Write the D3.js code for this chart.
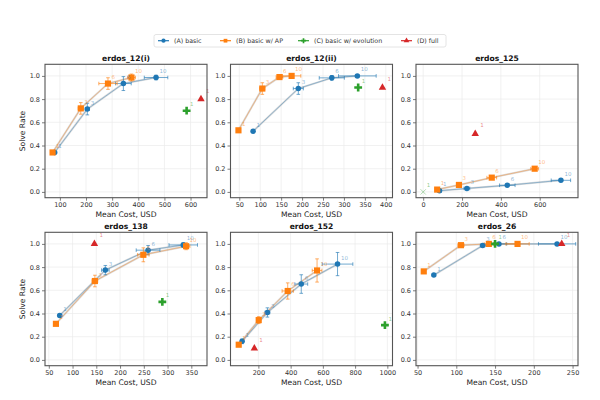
<!DOCTYPE html>
<html>
<head>
<meta charset="utf-8">
<script src="https://cdn.jsdelivr.net/npm/d3@7"></script>
<style>
  body { margin: 0; background: #fff; }
  text { font-family: "DejaVu Sans", sans-serif; }
</style>
</head>
<body>
<svg id="chart" width="600" height="400"></svg>
<script>
// panels, left to right then top to bottom
const problems = ["erdos_12(i)", "erdos_12(ii)", "erdos_125", "erdos_138", "erdos_152", "erdos_26"];
const xDomains = [[43, 663], [29, 416], [-37, 797], [42, 383], [27, 1032], [48, 257]];
const xTicks = [
  [100, 200, 300, 400, 500, 600],
  [50, 100, 150, 200, 250, 300, 350, 400],
  [0, 200, 400, 600],
  [50, 100, 150, 200, 250, 300, 350],
  [200, 400, 600, 800, 1000],
  [50, 100, 150, 200, 250]
];
const yTicks = [0, 0.2, 0.4, 0.6, 0.8, 1.0];
const attempts = ["1", "3", "6", "10"];

// (A) basic
const basicCost = [[80, 205, 343, 468], [83, 191, 271, 332], [84, 225, 433, 709], [73, 169, 259, 333], [99, 256, 466, 691], [71, 134, 155, 230]];
const basicRate = [[0.34, 0.714, 0.934, 0.986], [0.523, 0.891, 0.983, 1.0], [0.01, 0.03, 0.057, 0.10], [0.383, 0.774, 0.946, 0.991], [0.16, 0.409, 0.654, 0.826], [0.731, 0.986, 1.0, 1.0]];
const basicCostErr = [[0, 8, 30, 45], [0, 12, 30, 45], [10, 15, 40, 50], [3, 8, 25, 30], [8, 15, 40, 95], [1, 3, 10, 24]];
const basicRateErr = [[0, 0.05, 0.06, 0.02], [0, 0.05, 0.02, 0], [0, 0.01, 0.01, 0.01], [0, 0.04, 0.04, 0.02], [0.02, 0.04, 0.08, 0.1], [0, 0.01, 0, 0]];

// (B) basic w/ AP
const apCost = [[72, 180, 284, 374], [48, 105, 146, 175], [72, 184, 353, 574], [65, 147, 249, 339], [78, 202, 382, 564], [58, 106, 142, 179]];
const apRate = [[0.34, 0.72, 0.934, 0.986], [0.531, 0.891, 0.99, 1.0], [0.02, 0.06, 0.123, 0.2], [0.311, 0.68, 0.906, 0.98], [0.131, 0.343, 0.594, 0.771], [0.763, 0.989, 1.0, 1.0]];
const apCostErr = [[5, 10, 35, 15], [0, 6, 8, 22], [10, 10, 25, 20], [3, 6, 12, 8], [5, 10, 35, 30], [2, 4, 6, 15]];
const apRateErr = [[0.01, 0.05, 0.05, 0.03], [0, 0.05, 0.02, 0], [0, 0.01, 0.01, 0.01], [0, 0.05, 0.06, 0.03], [0.01, 0.03, 0.07, 0.1], [0, 0.01, 0, 0]];

// (C) basic w/ evolution, (D) full : one run each
const evoCost = [585, 334, 0, 289, 985, 150];
const evoRate = [0.70, 0.90, 0.0, 0.50, 0.30, 1.0];
const fullCost = [640, 392, 268, 146, 175, 236];
const fullRate = [0.80, 0.90, 0.50, 1.0, 0.10, 1.0];

const COLORS = { A: "#1f77b4", B: "#ff7f0e", C: "#2ca02c", D: "#d62728" };
const LEFTS = [45, 230.5, 416], TOPS = [64.3, 232.3];
const W = 162, H = 133.4;

const svg = d3.select("#chart");

const sym = {
  A: d3.symbol().type(d3.symbolCircle).size(24),
  B: d3.symbol().type(d3.symbolSquare).size(38),
  C: d3.symbol().type(d3.symbolCross).size(34),
  D: d3.symbol().type(d3.symbolTriangle).size(24),
  X: d3.symbol().type(d3.symbolX).size(20)
};

problems.forEach((name, p) => {
  const left = LEFTS[p % 3], top = TOPS[Math.floor(p / 3)];
  const x = d3.scaleLinear(xDomains[p], [0, W]);
  const y = d3.scaleLinear([-0.05, 1.1], [H, 0]);
  const g = svg.append("g").attr("transform", `translate(${left},${top})`);

  // grid
  g.append("g").selectAll("line").data(xTicks[p]).enter().append("line")
    .attr("x1", d => x(d)).attr("x2", d => x(d)).attr("y1", 0).attr("y2", H)
    .attr("stroke", "#ebebeb").attr("stroke-width", 0.7);
  g.append("g").selectAll("line").data(yTicks).enter().append("line")
    .attr("y1", d => y(d)).attr("y2", d => y(d)).attr("x1", 0).attr("x2", W)
    .attr("stroke", "#ebebeb").attr("stroke-width", 0.7);

  // axes
  const xa = g.append("g").attr("transform", `translate(0,${H})`)
    .call(d3.axisBottom(x).tickValues(xTicks[p]).tickFormat(d3.format("d")).tickSize(3).tickPadding(2));
  const ya = g.append("g")
    .call(d3.axisLeft(y).tickValues(yTicks).tickFormat(d3.format(".1f")).tickSize(3).tickPadding(2));
  [xa, ya].forEach(a => {
    a.select(".domain").remove();
    a.selectAll("line").attr("stroke", "#444").attr("stroke-width", 0.7);
    a.selectAll("text").attr("font-size", 6.5).attr("fill", "#333")
      .style("font-family", '"DejaVu Sans", sans-serif');
  });

  // lines between attempts (thin coloured line over a soft grey edge)
  const line = d3.line();
  [["A", basicCost, basicRate], ["B", apCost, apRate]].forEach(([k, cs, rs]) => {
    const pts = cs[p].map((c, i) => [x(c), y(rs[p][i])]);
    g.append("path").attr("d", line(pts))
      .attr("fill", "none").attr("stroke", "#aaa").attr("stroke-width", 2).attr("stroke-opacity", 0.45);
    g.append("path").attr("d", line(pts))
      .attr("fill", "none").attr("stroke", COLORS[k]).attr("stroke-width", 0.9).attr("stroke-opacity", 0.45);
  });

  // error bars
  [["A", basicCost, basicRate, basicCostErr, basicRateErr], ["B", apCost, apRate, apCostErr, apRateErr]]
    .forEach(([k, cs, rs, ce, re]) => {
      const eg = g.append("g").attr("stroke", COLORS[k]).attr("stroke-width", 0.8).attr("stroke-opacity", 0.8);
      cs[p].forEach((c, i) => {
        const cx = x(c), cy = y(rs[p][i]);
        if (ce[p][i] > 0) {
          const x0 = x(c - ce[p][i]), x1 = x(c + ce[p][i]);
          eg.append("line").attr("x1", x0).attr("x2", x1).attr("y1", cy).attr("y2", cy);
          eg.append("line").attr("x1", x0).attr("x2", x0).attr("y1", cy - 1.8).attr("y2", cy + 1.8);
          eg.append("line").attr("x1", x1).attr("x2", x1).attr("y1", cy - 1.8).attr("y2", cy + 1.8);
        }
        if (re[p][i] > 0) {
          const y0 = y(rs[p][i] - re[p][i]), y1 = y(rs[p][i] + re[p][i]);
          eg.append("line").attr("x1", cx).attr("x2", cx).attr("y1", y0).attr("y2", y1);
          eg.append("line").attr("x1", cx - 1.8).attr("x2", cx + 1.8).attr("y1", y0).attr("y2", y0);
          eg.append("line").attr("x1", cx - 1.8).attr("x2", cx + 1.8).attr("y1", y1).attr("y2", y1);
        }
      });
    });

  // markers + attempt labels
  const pts = [];
  basicCost[p].forEach((c, i) => pts.push({ k: "A", c, r: basicRate[p][i], t: attempts[i] }));
  apCost[p].forEach((c, i) => pts.push({ k: "B", c, r: apRate[p][i], t: attempts[i] }));
  pts.push({ k: "C", c: evoCost[p], r: evoRate[p], t: "1" });
  pts.push({ k: "D", c: fullCost[p], r: fullRate[p], t: "1" });

  pts.forEach(d => {
    const failed = d.k === "C" && d.r === 0;
    g.append("path")
      .attr("transform", `translate(${x(d.c)},${y(d.r)})`)
      .attr("d", failed ? sym.X() : sym[d.k]())
      .attr("fill", COLORS[d.k])
      .attr("stroke", failed ? COLORS[d.k] : "none")
      .attr("stroke-width", 0.6)
      .attr("opacity", failed ? 0.6 : 1);
  });
  pts.forEach(d => {
    g.append("text")
      .attr("x", x(d.c) + (d.k === "D" ? 5 : 3.5)).attr("y", y(d.r) - (d.k === "D" ? 6.5 : 4.5))
      .attr("font-size", 5.5).attr("fill", COLORS[d.k]).attr("fill-opacity", 0.55)
      .text(d.t);
  });

  // frame
  g.append("rect").attr("width", W).attr("height", H)
    .attr("fill", "none").attr("stroke", "#555").attr("stroke-width", 1.1);

  // title + labels
  g.append("text").attr("x", W / 2).attr("y", -3).attr("text-anchor", "middle")
    .attr("font-size", 7.6).attr("font-weight", "bold").attr("fill", "#111").text(name);
  g.append("text").attr("x", W / 2).attr("y", H + 19).attr("text-anchor", "middle")
    .attr("font-size", 7.6).attr("fill", "#222").text("Mean Cost, USD");
  if (p % 3 === 0) {
    g.append("text").attr("transform", `translate(-20,${H / 2}) rotate(-90)`)
      .attr("text-anchor", "middle").attr("font-size", 7.6).attr("fill", "#222").text("Solve Rate");
  }
});

// legend
const legendItems = [
  { k: "A", label: "(A) basic", x: 158 },
  { k: "B", label: "(B) basic w/ AP", x: 220 },
  { k: "C", label: "(C) basic w/ evolution", x: 298 },
  { k: "D", label: "(D) full", x: 401 }
];
const lg = svg.append("g");
lg.append("rect").attr("x", 154).attr("y", 34.5).attr("width", 292).attr("height", 12.5)
  .attr("rx", 2).attr("fill", "#fff").attr("stroke", "#ddd").attr("stroke-width", 0.8);
legendItems.forEach(d => {
  lg.append("line").attr("x1", d.x).attr("x2", d.x + 11).attr("y1", 40.7).attr("y2", 40.7)
    .attr("stroke", COLORS[d.k]).attr("stroke-width", 1.2);
  lg.append("path").attr("transform", `translate(${d.x + 5.5},40.7)`)
    .attr("d", d3.symbol().type({ A: d3.symbolCircle, B: d3.symbolSquare, C: d3.symbolCross, D: d3.symbolTriangle }[d.k]).size(14)())
    .attr("fill", COLORS[d.k]);
  lg.append("text").attr("x", d.x + 16).attr("y", 43).attr("font-size", 6.3).attr("fill", "#333").text(d.label);
});
</script>
</body>
</html>
